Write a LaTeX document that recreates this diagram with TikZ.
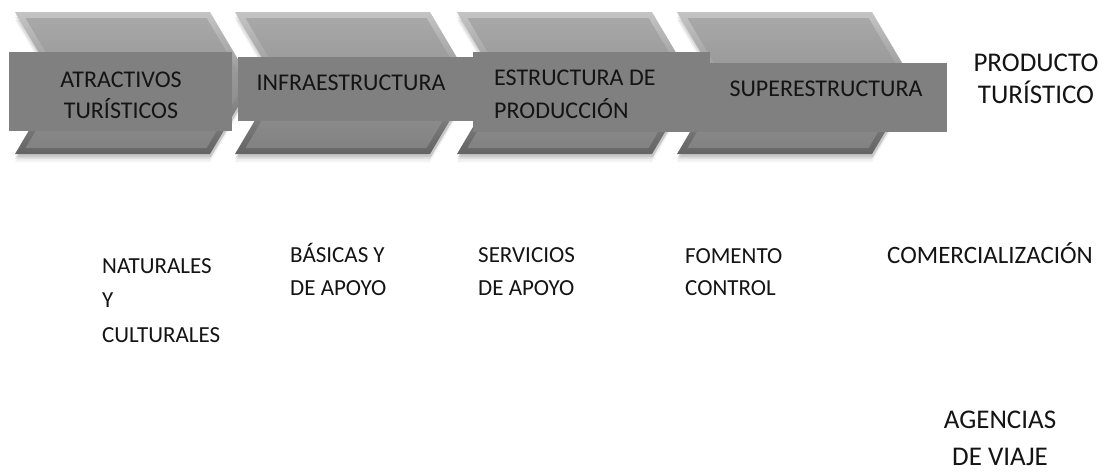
\documentclass[tikz,border=0pt]{standalone}
\usepackage{fontspec}
\setmainfont{Carlito}
\definecolor{rectgray}{HTML}{808080}
\definecolor{chevlight}{HTML}{C4C4C4}
\definecolor{chevmid}{HTML}{939393}
\definecolor{chevdark}{HTML}{646464}
\definecolor{facetop}{HTML}{A8A8A8}
\definecolor{facebot}{HTML}{828282}
\definecolor{txt}{HTML}{141414}
% chevron outline: #1 = left x, #2 = inset
\newcommand{\chevronpath}[2]{(#1+1.75*#2, 12+#2) -- (#1+195-0.57*#2, 12+#2) -- (#1+237-1.16*#2, 83) -- (#1+195-0.57*#2, 154-#2) -- (#1+1.75*#2, 154-#2) -- (#1+42+1.16*#2, 83) -- cycle}
\newcommand{\drawchevron}[1]{%
  \fill[black,opacity=0.05] [shift={(0,8)}] \chevronpath{#1}{0};
  \fill[black,opacity=0.08] [shift={(0,5)}] \chevronpath{#1}{0};
  \fill[black,opacity=0.10] [shift={(1,3)}] \chevronpath{#1}{0};
  \shade[top color=chevlight, middle color=chevmid, bottom color=chevdark] \chevronpath{#1}{0};
  \shade[top color=facetop, bottom color=facebot] \chevronpath{#1}{6};
}
\tikzset{
  boxrect/.style={draw=none, fill=rectgray, inner sep=0pt, anchor=north west},
  boxlabel/.style={text=txt, inner sep=0pt, font=\fontsize{24}{31}\selectfont},
  sublabel/.style={text=txt, inner sep=0pt, anchor=base west, align=left, font=\fontsize{23}{33}\selectfont},
  sidelabel/.style={text=txt, inner sep=0pt, anchor=base, align=center, font=\fontsize{27}{32}\selectfont},
}
\begin{document}
\begin{tikzpicture}[x=1pt,y=-1pt]
\useasboundingbox (0,0) rectangle (1115,472);
\fill[white] (0,0) rectangle (1115,472);
% chevrons
\drawchevron{15}
\drawchevron{235}
\drawchevron{457}
\drawchevron{677}
% rectangles
\node[boxrect, minimum width=223pt, minimum height=79pt] (r1) at (9,52) {};
\node[boxrect, minimum width=235pt, minimum height=64pt] (r2) at (238,57) {};
\node[boxrect, minimum width=237pt, minimum height=80pt] (r3) at (473,52) {};
\node[boxrect, minimum width=237pt, minimum height=69pt] (r4) at (710,63) {};
% labels in boxes (anchor = baseline of last line)
\node[boxlabel, anchor=base, align=center] (t1) at (121,118) {ATRACTIVOS\\TURÍSTICOS};
\node[boxlabel, anchor=base] (t2) at (351,90) {INFRAESTRUCTURA};
\node[boxlabel, anchor=base west, align=left, font=\fontsize{24}{33}\selectfont] (t3) at (494,118) {ESTRUCTURA DE\\PRODUCCIÓN};
\node[boxlabel, anchor=base] (t4) at (826,96) {SUPERESTRUCTURA};
\node[sidelabel] (t5) at (1036,103) {PRODUCTO\\TURÍSTICO};
% lower labels
\node[sublabel, font=\fontsize{23}{34.5}\selectfont] (s1) at (102,342) {NATURALES\\Y\\CULTURALES};
\node[sublabel] (s2) at (290,295) {BÁSICAS Y\\DE APOYO};
\node[sublabel] (s3) at (478,295) {SERVICIOS\\DE APOYO};
\node[sublabel, font=\fontsize{23}{32}\selectfont] (s4) at (685,295) {FOMENTO\\CONTROL};
\node[sublabel, font=\fontsize{25}{34}\selectfont] (s5) at (887,263) {COMERCIALIZACIÓN};
\node[sidelabel, font=\fontsize{27}{37}\selectfont] (s6) at (1000,465) {AGENCIAS\\DE VIAJE};
\end{tikzpicture}
\end{document}
